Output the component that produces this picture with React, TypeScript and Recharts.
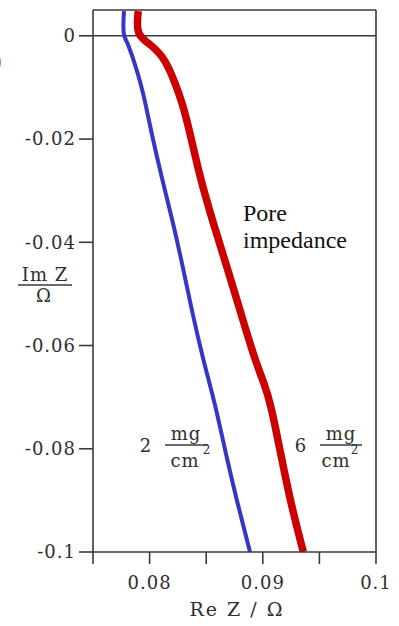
import React from 'react';
import { LineChart, Line, XAxis, YAxis, ReferenceLine } from 'recharts';

// Nyquist traces (Re Z, Im Z in ohm)
const blueRe = [0.07774, 0.07768, 0.07768, 0.07798, 0.07862, 0.07915, 0.07959, 0.08012, 0.08107, 0.08209, 0.08291, 0.08372, 0.08474, 0.08582, 0.08666, 0.08769, 0.08887];
const blueIm = [0.0048, 0.0029, 0, -0.00097, -0.00484, -0.0087, -0.01257, -0.01838, -0.02747, -0.03636, -0.04449, -0.05319, -0.06286, -0.07157, -0.08027, -0.08994, -0.1];

const redRe = [0.079, 0.07891, 0.07895, 0.07915, 0.07959, 0.08019, 0.08092, 0.08136, 0.0818, 0.08216, 0.08284, 0.08357, 0.08445, 0.08563, 0.08679, 0.08799, 0.08931, 0.09019, 0.09072, 0.09152, 0.0924, 0.09358];
const redIm = [0.0048, 0.0029, 0.00097, 0, -0.00097, -0.00193, -0.00348, -0.00484, -0.00677, -0.0087, -0.01257, -0.01876, -0.02747, -0.03636, -0.04449, -0.05319, -0.06286, -0.0677, -0.07157, -0.08027, -0.08994, -0.1];

const xTicks = [0.075, 0.08, 0.085, 0.09, 0.095, 0.1];
const xTickText = ['', '0.08', '', '0.09', '', '0.1'];
const yTicks = [0, -0.02, -0.04, -0.06, -0.08, -0.1];
const yTickText = ['0', '-0.02', '-0.04', '-0.06', '-0.08', '-0.1'];

const blueData = blueRe.map((x, i) => ({ x, y: blueIm[i] }));
const redData = redRe.map((x, i) => ({ x, y: redIm[i] }));

const ink = '#3a3a3a';
const serif = '"DejaVu Serif", "Liberation Serif", serif';
const times = '"Liberation Serif", "Times New Roman", serif';
const tickStyle = { fill: '#2e2e2e', fontSize: 18, style: { fontFamily: serif, letterSpacing: 1 } };

export default function App() {
  return (
    <div style={{ position: 'absolute', left: 0, top: 0, width: 399, height: 626, background: '#fff', fontFamily: serif }}>
      <LineChart width={399} height={626} margin={{ top: 10, right: 23, bottom: 0, left: 0 }} style={{ fontFamily: serif }}>
        <XAxis
          type="number"
          dataKey="x"
          domain={[0.075, 0.1]}
          ticks={xTicks}
          tickFormatter={(v: number) => xTickText[xTicks.indexOf(v)] ?? ''}
          height={74}
          tickSize={12}
          tickMargin={12}
          axisLine={{ stroke: ink, strokeWidth: 1.6 }}
          tickLine={{ stroke: ink, strokeWidth: 1.6 }}
          tick={tickStyle}
          allowDataOverflow
        />
        <YAxis
          type="number"
          dataKey="y"
          domain={[-0.1, 0.005]}
          ticks={yTicks}
          tickFormatter={(v: number) => yTickText[yTicks.indexOf(v)] ?? ''}
          width={93}
          tickSize={14}
          tickMargin={3}
          axisLine={{ stroke: ink, strokeWidth: 1.6 }}
          tickLine={{ stroke: ink, strokeWidth: 1.6 }}
          tick={tickStyle}
          allowDataOverflow
        />
        <ReferenceLine y={0.005} stroke={ink} strokeWidth={1.6} />
        <ReferenceLine x={0.1} stroke={ink} strokeWidth={1.6} />
        <ReferenceLine y={0} stroke={ink} strokeWidth={1.6} />
        <Line data={blueData} dataKey="y" type="basis" stroke="#3535c8" strokeWidth={4} dot={false} isAnimationActive={false} />
        <Line data={redData} dataKey="y" type="basis" stroke="#cc0000" strokeWidth={7.5} dot={false} isAnimationActive={false} />
      </LineChart>
      <svg width={399} height={626} style={{ position: 'absolute', left: 0, top: 0, pointerEvents: 'none' }}>
        <g style={{ fontFamily: serif, fontSize: 18, letterSpacing: 1 }} fill="#2e2e2e">
          <text x={-5} y={68} fill="#555">)</text>
          {/* y axis label as a fraction */}
          <text x={45} y={281} textAnchor="middle">Im Z</text>
          <line x1={18} x2={72} y1={285} y2={285} stroke={ink} strokeWidth={1.5} />
          <text x={44} y={302} textAnchor="middle">Ω</text>
          {/* x axis label */}
          <text x={237} y={616} textAnchor="middle" style={{ fontSize: 19, letterSpacing: 2 }}>Re Z / Ω</text>
          {/* loading annotations */}
          <text x={146} y={452} textAnchor="middle">2</text>
          <text x={186} y={440} textAnchor="middle">mg</text>
          <line x1={165} x2={208} y1={445} y2={445} stroke={ink} strokeWidth={1.3} />
          <text x={185} y={467} textAnchor="middle">cm</text>
          <text x={207} y={454} textAnchor="middle" style={{ fontSize: 12 }}>2</text>
          <text x={301} y={452} textAnchor="middle">6</text>
          <text x={341} y={440} textAnchor="middle">mg</text>
          <line x1={320} x2={362} y1={445} y2={445} stroke={ink} strokeWidth={1.3} />
          <text x={336} y={467} textAnchor="middle">cm</text>
          <text x={355} y={454} textAnchor="middle" style={{ fontSize: 12 }}>2</text>
        </g>
        <g style={{ fontFamily: times, fontSize: 24 }} fill="#111">
          <text x={243} y={221}>Pore</text>
          <text x={243} y={248}>impedance</text>
        </g>
      </svg>
    </div>
  );
}
